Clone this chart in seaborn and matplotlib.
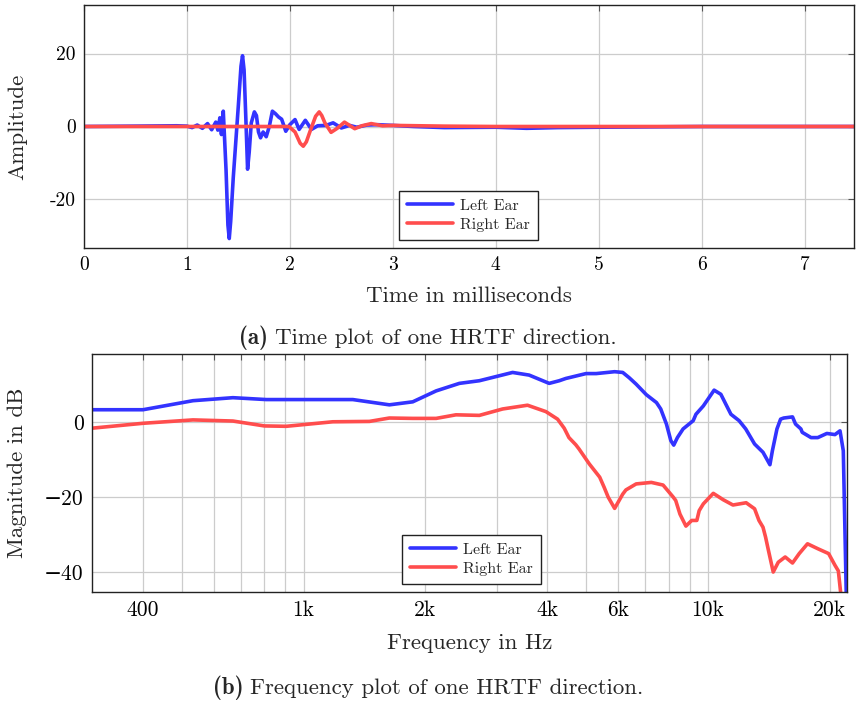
import numpy as np
import pandas as pd
import matplotlib
matplotlib.use("Agg")
import matplotlib.pyplot as plt
import seaborn as sns
from matplotlib.ticker import FixedLocator, FixedFormatter, NullLocator

sns.set_theme(style="white")
plt.rcParams["font.family"] = ["cmr10", "DejaVu Serif"]
plt.rcParams["mathtext.fontset"] = "cm"
plt.rcParams["axes.unicode_minus"] = False

BLUE = "#3333ff"
RED = "#ff4d4d"

# ---------------- time-domain data (ms, amplitude) ----------------
left_t = [0.0, 0.5, 0.9, 1.0, 1.05, 1.1, 1.15, 1.2, 1.24, 1.28, 1.3, 1.32, 1.335,
          1.353, 1.38, 1.398, 1.411, 1.425, 1.45, 1.50, 1.525, 1.54, 1.555, 1.575,
          1.589, 1.605, 1.625, 1.655, 1.675, 1.695, 1.715, 1.74, 1.77, 1.80, 1.83,
          1.86, 1.89, 1.92, 1.96, 2.0, 2.05, 2.09, 2.15, 2.21, 2.27, 2.35, 2.42,
          2.5, 2.58, 2.65, 2.75, 2.85, 3.0, 3.2, 3.5, 4.0, 4.3, 4.6, 5.0, 6.0, 7.48]
left_amp = [0.0, 0.1, 0.2, 0.1, -0.3, 0.4, -0.5, 0.8, -0.9, 1.2, -1.0, 2.4, -2.2,
            4.2, -12.0, -27.0, -30.7, -26.0, -14.0, 6.0, 16.5, 19.4, 15.5, 0.0,
            -11.7, -7.0, 1.0, 4.0, 3.0, -1.5, -3.1, -1.5, -2.8, 0.0, 4.2,
            3.5, 2.6, 2.0, -1.3, 0.5, 1.9, -0.8, 1.7, -0.8, 0.2, 0.3, 1.0,
            -0.4, 0.3, -0.2, 0.4, 0.5, 0.3, 0.0, -0.3, -0.2, -0.5, -0.3, -0.2, 0.0, 0.0]

right_t = [0.0, 1.99, 2.05, 2.1, 2.13, 2.16, 2.2, 2.25, 2.285, 2.31, 2.34, 2.40,
           2.46, 2.53, 2.58, 2.63, 2.7, 2.79, 2.9, 3.0, 3.5, 4.0, 7.48]
right_amp = [0.0, 0.0, -1.5, -4.6, -5.4, -4.2, -1.0, 2.8, 4.0, 3.0, 1.0, -1.6,
             -0.5, 1.2, 0.3, -0.6, 0.2, 0.8, 0.2, 0.3, 0.1, 0.0, 0.0]

# ---------------- frequency-domain data (Hz, dB) ----------------
left_f = [300, 401, 533, 669, 809, 1324, 1630, 1862, 2127, 2428, 2720, 3287, 3611,
          4048, 4287, 4449, 4992, 5290, 5875, 6153, 6383, 6640, 7036, 7455, 7638,
          7890, 8090, 8224, 8398, 8674, 9189, 9333, 9733, 10350, 10755, 11060,
          11388, 11930, 12390, 13030, 13670, 14220, 14420, 14800, 15110, 15380,
          16170, 16450, 16960, 17090, 17970, 18670, 19660, 20590, 21190, 21590,
          21950, 22050]
left_db = [3.2, 3.2, 5.6, 6.4, 5.9, 5.9, 4.5, 5.3, 8.2, 10.2, 10.9, 13.1, 12.4,
           10.2, 10.9, 11.5, 12.8, 12.8, 13.3, 13.1, 11.7, 10.0, 7.2, 5.1, 3.4,
           -0.6, -5.0, -6.2, -4.2, -1.9, 0.3, 2.0, 4.2, 8.4, 7.3, 4.7,
           2.0, 0.3, -1.9, -5.9, -8.1, -11.4, -7.7, -1.9, 0.7, 1.0,
           1.3, -0.6, -1.9, -2.8, -4.2, -4.2, -3.1, -3.4, -2.4, -7.7,
           -45.0, -60.0]

right_f = [300, 401, 533, 669, 800, 906, 1181, 1455, 1630, 1862, 2127, 2381, 2720,
           3105, 3578, 3973, 4246, 4409, 4530, 4710, 4796, 5087, 5396, 5535, 5663,
           5875, 6153, 6264, 6640, 7240, 7741, 8200, 8318, 8520, 8815, 9110, 9380,
           9506, 9733, 10300, 10650, 10900, 11520, 12420, 13030, 13360, 13670,
           13870, 14070, 14490, 14910, 15510, 16170, 16800, 17610, 18670, 19860,
           20590, 20990, 21300, 21600]
right_db = [-1.7, -0.4, 0.5, 0.2, -1.1, -1.2, 0.0, 0.1, 1.0, 0.9, 0.9, 1.85, 1.7,
            3.4, 4.4, 2.7, 0.7, -1.7, -4.2, -6.1, -7.2, -11.2, -14.7, -17.4, -20.0,
            -23.0, -19.2, -18.1, -16.5, -16.1, -16.8, -20.0, -20.9, -24.5, -27.7,
            -26.2, -26.2, -23.6, -21.8, -19.0, -20.0, -20.7, -22.1, -21.5, -23.1,
            -26.2, -28.0, -30.6, -33.7, -39.9, -37.3, -35.9, -37.5, -35.0, -32.4,
            -33.7, -35.0, -38.1, -39.6, -46.0, -60.0]

series_names = ["Left Ear", "Right Ear"]

time_ticks = [0, 1, 2, 3, 4, 5, 6, 7]
time_ticklabels = ["0", "1", "2", "3", "4", "5", "6", "7"]
amp_ticks = [-20, 0, 20]
amp_ticklabels = ["-20", "0", "20"]

freq_grid = [400, 500, 600, 700, 800, 900, 1000, 2000, 3000, 4000, 5000, 6000,
             7000, 8000, 9000, 10000, 20000]
freq_ticklabels = ["400", "", "", "", "", "", "1k", "2k", "", "4k", "", "6k",
                   "", "", "", "10k", "20k"]
db_ticks = [-40, -20, 0]
db_ticklabels = ["\u221240", "\u221220", "0"]

time_df = pd.concat([
    pd.DataFrame({"t": left_t, "amp": left_amp, "ear": series_names[0]}),
    pd.DataFrame({"t": right_t, "amp": right_amp, "ear": series_names[1]}),
], ignore_index=True)
freq_df = pd.concat([
    pd.DataFrame({"f": left_f, "db": left_db, "ear": series_names[0]}),
    pd.DataFrame({"f": right_f, "db": right_db, "ear": series_names[1]}),
], ignore_index=True)

W, H = 856, 703
fig = plt.figure(figsize=(W / 100, H / 100), dpi=100)

def px_axes(l, t, r, b):
    return fig.add_axes([l / W, 1 - b / H, (r - l) / W, (b - t) / H])

ax1 = px_axes(84, 5, 854, 248)
ax2 = px_axes(92, 354, 847, 592)

GRID = "#cccccc"
SPINE = "#222222"
LW = 2.6

def style_axes(ax):
    for s in ax.spines.values():
        s.set_color(SPINE)
        s.set_linewidth(1.0)
        s.set_visible(True)
    ax.tick_params(axis="both", which="both", direction="in", length=4,
                   width=0.8, color="#555555", top=True, right=True,
                   labelcolor="black", pad=6)
    ax.set_facecolor("white")

def round_lines(ax):
    for ln in ax.get_lines():
        ln.set_solid_joinstyle("round")
        ln.set_solid_capstyle("round")

# ---- top: time plot ----
ax1.axhline(0, color=GRID, lw=0.9, zorder=0)
sns.lineplot(data=time_df, x="t", y="amp", hue="ear", palette=[BLUE, RED],
             linewidth=LW, estimator=None, sort=False, ax=ax1)
round_lines(ax1)
ax1.set_xlim(0, 7.48)
ax1.set_ylim(-33.3, 33.3)
ax1.xaxis.set_major_locator(FixedLocator(time_ticks))
ax1.xaxis.set_major_formatter(FixedFormatter(time_ticklabels))
ax1.yaxis.set_major_locator(FixedLocator(amp_ticks))
ax1.yaxis.set_major_formatter(FixedFormatter(amp_ticklabels))
ax1.grid(True, color=GRID, lw=0.9)
style_axes(ax1)
ax1.tick_params(labelsize=14)
ax1.set_xlabel("Time in milliseconds", fontsize=16.5, labelpad=9)
ax1.set_ylabel("Amplitude", fontsize=16.5, labelpad=16)

# ---- bottom: frequency plot ----
ax2.set_xscale("log")
sns.lineplot(data=freq_df, x="f", y="db", hue="ear", palette=[BLUE, RED],
             linewidth=LW, estimator=None, sort=False, ax=ax2)
round_lines(ax2)
ax2.set_xlim(300, 22050)
ax2.set_ylim(-45.2, 18)
ax2.xaxis.set_major_locator(FixedLocator(freq_grid))
ax2.xaxis.set_major_formatter(FixedFormatter(freq_ticklabels))
ax2.xaxis.set_minor_locator(NullLocator())
ax2.yaxis.set_major_locator(FixedLocator(db_ticks))
ax2.yaxis.set_major_formatter(FixedFormatter(db_ticklabels))
ax2.grid(True, color=GRID, lw=0.9)
style_axes(ax2)
ax2.tick_params(labelsize=15.5)
ax2.set_xlabel("Frequency in Hz", fontsize=16.5, labelpad=10)
ax2.set_ylabel("Magnitude in dB", fontsize=16.5, labelpad=12)

for ax, anchor in ((ax1, (315 / 770, 8 / 243)), (ax2, (309.7 / 755, 8 / 238))):
    leg = ax.legend(loc="lower left", bbox_to_anchor=anchor, borderaxespad=0,
                    fontsize=11.5, handlelength=2.9, handletextpad=0.45,
                    labelspacing=0.3, borderpad=0.5, fancybox=False,
                    framealpha=1, edgecolor="#222222", title=None)
    leg.get_frame().set_linewidth(1.0)
    for line in leg.get_lines():
        line.set_linewidth(LW)

# ---- captions ----
fig.canvas.draw()
renderer = fig.canvas.get_renderer()

def caption(y_px, bold, rest):
    tb = fig.text(0, 1 - y_px / H, bold, family=["cmb10", "DejaVu Serif"],
                  fontweight="bold", fontsize=16.5, ha="left", va="center")
    tr = fig.text(0, 1 - y_px / H, rest, fontsize=16.5, ha="left", va="center")
    wb = tb.get_window_extent(renderer).width
    wr = tr.get_window_extent(renderer).width
    gap = 7
    x0 = W / 2 - (wb + gap + wr) / 2
    tb.set_x(x0 / W)
    tr.set_x((x0 + wb + gap) / W)

caption(338, "(a)", "Time plot of one HRTF direction.")
caption(688, "(b)", "Frequency plot of one HRTF direction.")

fig.savefig("out.png", dpi=100, facecolor="white")
